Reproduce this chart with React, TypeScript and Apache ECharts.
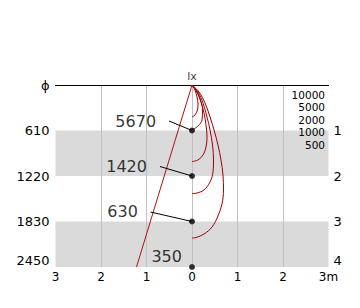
import React, { useEffect, useRef } from "react";
import * as echarts from "echarts";

// distances (mm) below the luminaire and illuminance (lx) on axis
const distances = [610, 1220, 1830, 2440];
const illuminance = [5670, 1420, 630, 350];
const yTickLabels = ["ϕ", "610", "1220", "1830", "2450"];
const yRightLabels = ["", "1", "2", "3", "4"];
const xTickLabels = ["3", "2", "1", "0", "1", "2", "3m"];
const isoluxLevels = [10000, 5000, 2000, 1000, 500];

// isolux contours: [x (m), depth (mm)]
const curve10000 = [[0, 0], [0.066, 67], [0.11, 161], [0.132, 255], [0.121, 335], [0.066, 402], [0, 429]];
const curve5000 = [[0, 0], [0.11, 94], [0.187, 201], [0.231, 335], [0.22, 469], [0.132, 550], [0, 603]];
const curve2000 = [[0, 0], [0.11, 94], [0.198, 228], [0.264, 375], [0.308, 536], [0.33, 697], [0.308, 831], [0.242, 938], [0.132, 1005], [0, 1026]];
const curve1000 = [[0, 0], [0.132, 94], [0.242, 241], [0.33, 429], [0.396, 603], [0.451, 804], [0.473, 1005], [0.462, 1166], [0.396, 1300], [0.264, 1408], [0.11, 1448], [0, 1455]];
const curve500 = [[0, 0], [0.154, 94], [0.286, 241], [0.396, 429], [0.484, 603], [0.571, 804], [0.637, 1005], [0.681, 1207], [0.692, 1408], [0.659, 1595], [0.571, 1756], [0.44, 1904], [0.264, 1998], [0.088, 2045], [0, 2051]];
const isoluxCurves = [curve10000, curve5000, curve2000, curve1000, curve500];

// beam edge line
const beamEdge = [[0, 0], [-1.22, 2440]];

// callout label anchors (right end of text) and leader-line starts
const calloutText = [[-0.79, 483], [-0.99, 1086], [-1.19, 1699], [-0.22, 2302]];
const calloutLeader = [[-0.505, 483], [-0.703, 1093], [-0.912, 1703], null];

const RED = "#a00000";
const FONT = "DejaVu Sans";

export default function App() {
  const ref = useRef<HTMLDivElement>(null);
  useEffect(() => {
    if (!ref.current) return;
    const chart = echarts.init(ref.current, null, { renderer: "svg" });
    const shiftLast = (labels: string[]) => (v: number) => {
      const idx = Math.round(v / 610);
      const t = labels[idx] ?? "";
      return idx === 4 ? `{s|${t}}` : t;
    };
    const series: any[] = [];
    isoluxCurves.forEach((c, i) => {
      series.push({
        type: "line",
        name: String(isoluxLevels[i]),
        data: c,
        smooth: 0.35,
        showSymbol: false,
        symbol: "none",
        lineStyle: { color: RED, width: 1 },
        z: 3,
      });
    });
    series.push({
      type: "line",
      data: beamEdge,
      showSymbol: false,
      symbol: "none",
      lineStyle: { color: "#b01010", width: 1 },
      z: 3,
    });
    calloutLeader.forEach((p, i) => {
      if (!p) return;
      series.push({
        type: "line",
        data: [p, [0, distances[i]]],
        showSymbol: false,
        symbol: "none",
        lineStyle: { color: "#000", width: 1 },
        z: 4,
      });
    });
    series.push({
      type: "scatter",
      data: distances.map((d) => [0, d]),
      symbolSize: 6,
      itemStyle: { color: "#000" },
      z: 5,
    });
    series.push({
      type: "scatter",
      data: calloutText.map((p, i) => ({ value: p, name: String(illuminance[i]) })),
      symbolSize: 0,
      label: {
        show: true,
        position: "left",
        distance: 0,
        formatter: (p: any) => p.name,
        fontSize: 16,
        fontFamily: FONT,
        color: "#000",
      },
      z: 6,
    });
    series.push({
      type: "scatter",
      data: [[0, 0]],
      symbolSize: 0,
      label: {
        show: true,
        position: "top",
        distance: 3,
        formatter: "lx",
        fontSize: 11,
        fontFamily: FONT,
        color: "#000",
      },
      z: 6,
    });

    const yAxisBase = {
      type: "value",
      inverse: true,
      min: 0,
      max: 2440,
      interval: 610,
      axisLine: { show: false },
      axisTick: { show: false },
      splitLine: { show: false },
    };

    chart.setOption({
      animation: false,
      grid: { left: 55.5, right: 31.5, top: 85, bottom: 41 },
      xAxis: [
        {
          type: "value",
          min: -3,
          max: 3,
          interval: 1,
          axisLine: { show: true, lineStyle: { color: "#000", width: 1 } },
          axisTick: { show: false },
          axisLabel: {
            margin: 4,
            fontSize: 12,
            fontFamily: FONT,
            color: "#000",
            formatter: (v: number) => xTickLabels[Math.round(v) + 3],
          },
          splitLine: {
            show: true,
            showMinLine: false,
            showMaxLine: false,
            lineStyle: { color: "#c0c0c0", width: 1 },
          },
        },
        {
          type: "value",
          position: "top",
          min: -3,
          max: 3,
          interval: 1,
          axisLine: { show: true, onZero: false, lineStyle: { color: "#000", width: 1 } },
          axisTick: { show: false },
          axisLabel: { show: false },
          splitLine: { show: false },
        },
      ],
      yAxis: [
        {
          ...yAxisBase,
          position: "left",
          splitArea: {
            show: true,
            areaStyle: { color: ["rgba(0,0,0,0)", "#dadada"] },
          },
          axisLabel: {
            margin: 6,
            fontSize: 13,
            fontFamily: FONT,
            color: "#000",
            formatter: shiftLast(yTickLabels),
            rich: { s: { fontSize: 13, fontFamily: FONT, color: "#000", padding: [0, 0, 14, 0] } },
          },
        },
        {
          ...yAxisBase,
          position: "right",
          axisLabel: {
            margin: 5,
            fontSize: 13,
            fontFamily: FONT,
            color: "#000",
            formatter: shiftLast(yRightLabels),
            rich: { s: { fontSize: 13, fontFamily: FONT, color: "#000", padding: [0, 0, 14, 0] } },
          },
        },
      ],
      graphic: isoluxLevels.map((lv, i) => ({
        type: "text",
        right: 35,
        top: 89 + i * 12.65,
        z: 100,
        style: {
          text: String(lv),
          font: `10.5px "${FONT}"`,
          fill: "#000",
        },
      })),
      series,
    });
    return () => chart.dispose();
  }, []);
  return (
    <div
      ref={ref}
      style={{ position: "fixed", left: 0, top: 0, width: 360, height: 308, background: "#fff" }}
    />
  );
}
